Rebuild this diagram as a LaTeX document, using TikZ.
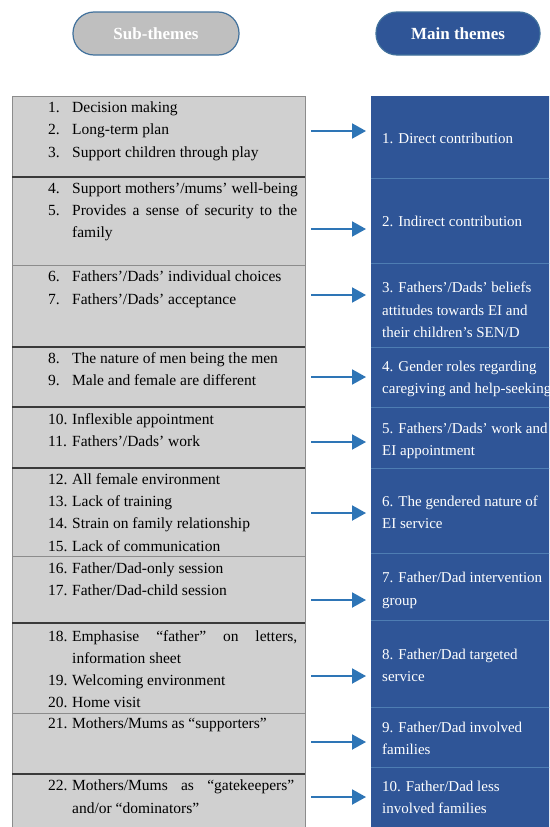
\documentclass[tikz,border=0pt]{standalone}
\usepackage{fontspec}
\setmainfont{Liberation Serif}
\usetikzlibrary{arrows.meta}

\definecolor{rowgray}{HTML}{D0D0D0}
\definecolor{pillgray}{HTML}{BFBFBF}
\definecolor{themeblue}{HTML}{2F5597}
\definecolor{pilledge}{HTML}{41719C}
\definecolor{rulelight}{HTML}{4E7DB3}
\definecolor{linkblue}{HTML}{2E75B6}
\definecolor{framegray}{HTML}{8C8C8C}
\definecolor{ruledark}{HTML}{3A3A3A}

\begin{document}
\begin{tikzpicture}[x=1pt,y=-1pt,
  pill/.style={rounded corners=21pt, minimum width=166pt, minimum height=43pt,
    line width=1.2pt, draw=pilledge, text=white, inner sep=0pt,
    font=\fontsize{17}{20}\selectfont\bfseries},
  subrow/.style={fill=rowgray, draw=none, anchor=north west, minimum width=293pt,
    inner sep=0pt, outer sep=0pt},
  mainrow/.style={fill=themeblue, draw=none, anchor=north west, minimum width=182pt,
    inner sep=0pt, outer sep=0pt},
  num/.style={anchor=base west, inner sep=0pt, font=\fontsize{15.5}{22}\selectfont},
  itm/.style={num},
  mtxt/.style={anchor=base west, inner sep=0pt, text=white,
    font=\fontsize{15}{22}\selectfont},
  darkrule/.style={draw=ruledark, line width=1.4pt},
  lightrule/.style={draw=framegray, line width=0.9pt},
  bluerule/.style={draw=rulelight, line width=1pt},
  link/.style={draw=linkblue, line width=2pt, -{Triangle[length=14pt,width=15pt]},
    shorten <=6pt, shorten >=5pt}
]
\clip (0,0) rectangle (549,827);
\fill[white] (0,0) rectangle (549,827);

% column headings
\node[pill, fill=pillgray] (hsub) at (156,33.5) {Sub-themes};
\node[pill, fill=themeblue, minimum width=164pt] (hmain) at (458,33.5) {Main themes};

% sub-theme rows
\foreach \i/\t/\b in {1/96/177, 2/177/265, 3/265/347, 4/347/407, 5/407/468,
                      6/468/556, 7/556/623, 8/623/713, 9/713/774, 10/774/834}{
  \pgfmathsetmacro\h{\b-\t}
  \node[subrow, minimum height=\h pt] (s\i) at (12,\t) {};
}
% main-theme rows
\foreach \i/\t/\b in {1/96/178, 2/178/263, 3/263/347, 4/347/407, 5/407/468,
                      6/468/553, 7/553/620, 8/620/707, 9/707/767, 10/767/834}{
  \pgfmathsetmacro\h{\b-\t}
  \node[mainrow, minimum height=\h pt] (m\i) at (371,\t) {};
}

% frame and separators
\draw[lightrule] (s1.north west) rectangle (s10.south east);
\foreach \i in {1,3,4,5,7,9}
  \draw[darkrule] (s\i.south west) -- (s\i.south east);
\foreach \i in {2,6,8}
  \draw[lightrule] (s\i.south west) -- (s\i.south east);
\foreach \i in {1,...,9}
  \draw[bluerule] (m\i.south west) -- (m\i.south east);

% connectors
\foreach \i/\y in {1/131, 2/229, 3/295, 4/377, 5/442, 6/513, 7/600, 8/676, 9/742, 10/797}{
  \coordinate (ay\i) at (0,\y);
  \draw[link] (s\i.east |- ay\i) -- (m\i.west |- ay\i);
}

% numbered sub-themes
\foreach \n/\y/\t in {
  1/112/{Decision making},
  2/134/{Long-term plan},
  3/157/{Support children through play},
  4/193/{Support mothers’/mums’ well-being},
  5/215/{\makebox[225pt][s]{Provides a sense of security to the}},
  6/281/{Fathers’/Dads’ individual choices},
  7/304/{Fathers’/Dads’ acceptance},
  8/363/{The nature of men being the men},
  9/385/{Male and female are different},
  10/424/{Inflexible appointment},
  11/446/{Fathers’/Dads’ work},
  12/484/{All female environment},
  13/506/{Lack of training},
  14/528/{Strain on family relationship},
  15/551/{Lack of communication},
  16/573/{Father/Dad-only session},
  17/595/{Father/Dad-child session},
  18/641/{\makebox[225pt][s]{Emphasise “father” on letters,}},
  19/685/{Welcoming environment},
  20/707/{Home visit},
  21/728/{Mothers/Mums as “supporters”},
  22/790/{\makebox[222pt][s]{Mothers/Mums as “gatekeepers”}}}{
  \node[num] (n\n) at (48,\y) {\n.};
  \node[itm] (t\n) at (72,\y) {\t};
}
\node[itm] (c5) at (72,237) {family};
\node[itm] (c18) at (72,663) {information sheet};
\node[itm] (c22) at (72,813) {and/or “dominators”};

% main themes
\foreach \k/\y/\t in {
  r1/143/{1. Direct contribution},
  r2/226/{2. Indirect contribution},
  r3a/292/{3. Fathers’/Dads’ beliefs},
  r3b/315/{attitudes towards EI and},
  r3c/337/{their children’s SEN/D},
  r4a/371/{4. Gender roles regarding},
  r4b/393/{caregiving and help-seeking},
  r5a/433/{5. Fathers’/Dads’ work and},
  r5b/455/{EI appointment},
  r6a/506/{6. The gendered nature of},
  r6b/528/{EI service},
  r7a/582/{7. Father/Dad intervention},
  r7b/605/{group},
  r8a/659/{8. Father/Dad targeted},
  r8b/681/{service},
  r9a/732/{9. Father/Dad involved},
  r9b/754/{families},
  r10a/791/{10. Father/Dad less},
  r10b/813/{involved families}}{
  \node[mtxt] (\k) at (382,\y) {\t};
}
\end{tikzpicture}
\end{document}
